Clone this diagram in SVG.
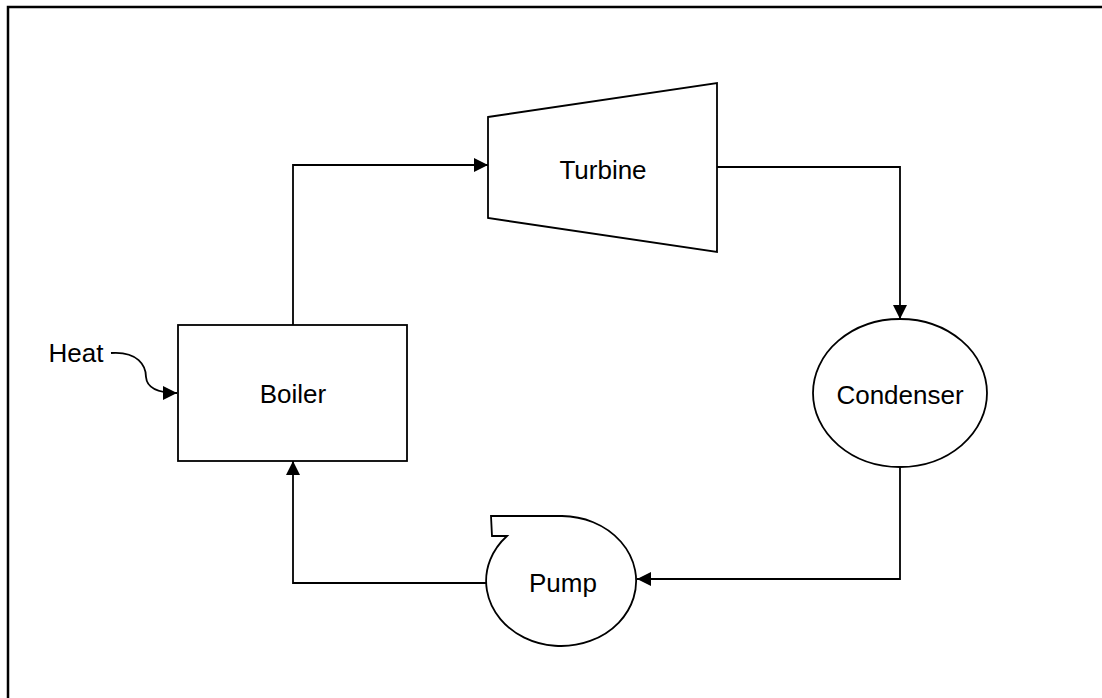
<svg xmlns="http://www.w3.org/2000/svg" width="1102" height="698" viewBox="0 0 1102 698">
<defs>
<style>
.shape{fill:#fff;stroke:#000;stroke-width:1.8}
.conn{fill:none;stroke:#000;stroke-width:1.8}
.lbl{font-family:"Liberation Sans",Arial,sans-serif;font-size:26px;fill:#000;text-anchor:middle}
</style>
<marker id="arr" markerWidth="14" markerHeight="14" viewBox="0 0 14 14" refX="14" refY="7" orient="auto" markerUnits="userSpaceOnUse">
<path d="M0,0 L14,7 L0,14 Z" fill="#000"/>
</marker>
</defs>
<rect x="0" y="0" width="1102" height="698" fill="#fff"/>
<rect x="8" y="7" width="1200" height="800" fill="none" stroke="#000" stroke-width="2.5"/>
<g id="connectors">
<path class="conn" d="M293,325 V165 H488" marker-end="url(#arr)"/>
<path class="conn" d="M717,167 H900 V319" marker-end="url(#arr)"/>
<path class="conn" d="M900,467 V579 H637" marker-end="url(#arr)"/>
<path class="conn" d="M488,583 H293 V461" marker-end="url(#arr)"/>
<path class="conn" d="M111,353 C138,351 146,366 146,377 C147,389 160,393 177,393" marker-end="url(#arr)"/>
</g>
<g id="turbine">
<polygon class="shape" points="488,117 717,83 717,252 488,218"/>
<text class="lbl" x="603" y="179">Turbine</text>
</g>
<g id="condenser">
<ellipse class="shape" cx="900" cy="393" rx="87" ry="74"/>
<text class="lbl" x="900" y="404">Condenser</text>
</g>
<g id="pump">
<path class="shape" d="M562,516 A75,65 0 1 1 507,536 L492,536 L491,516 Z"/>
<text class="lbl" x="563" y="592">Pump</text>
</g>
<g id="boiler">
<rect class="shape" x="178" y="325" width="229" height="136"/>
<text class="lbl" x="293" y="403">Boiler</text>
</g>
<g id="heat">
<text class="lbl" x="76" y="362">Heat</text>
</g>
</svg>
